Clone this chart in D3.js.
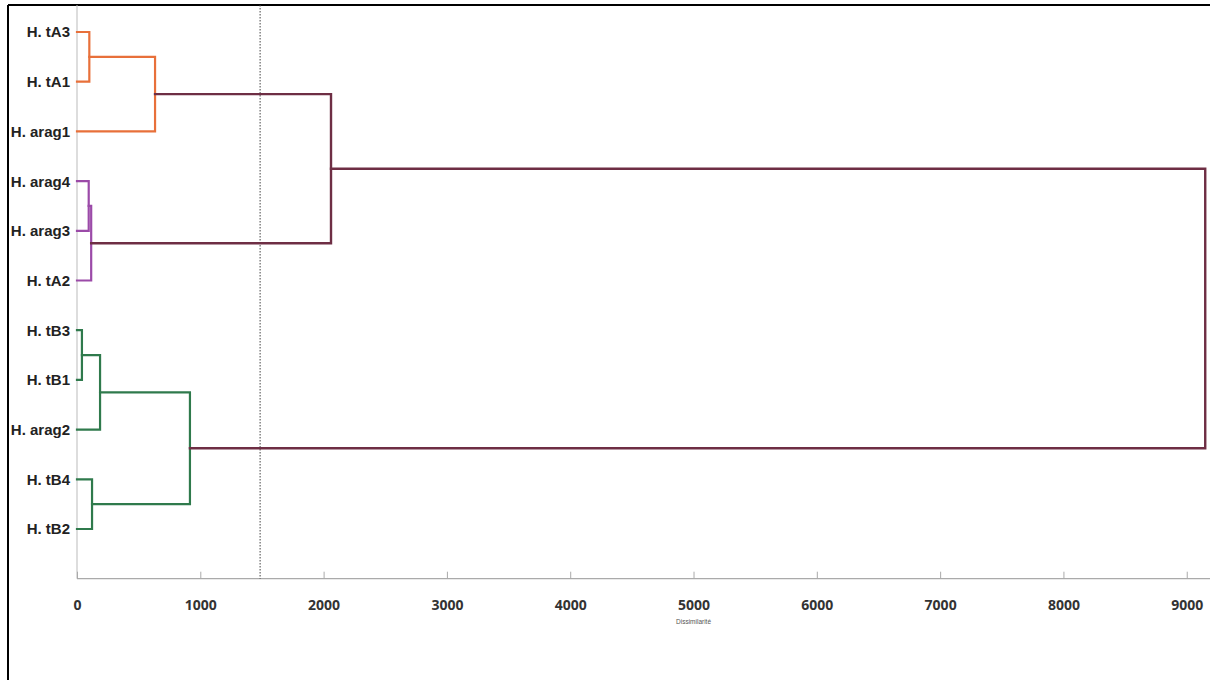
<!DOCTYPE html>
<html>
<head>
<meta charset="utf-8">
<script src="https://cdn.jsdelivr.net/npm/d3@7"></script>
<style>
  html, body { margin: 0; padding: 0; background: #fff; }
  svg { display: block; }
</style>
</head>
<body>
<svg id="chart" width="1210" height="680"></svg>
<script>
// ---- Data ----
const leaves = ["H. tA3", "H. tA1", "H. arag1", "H. arag4", "H. arag3", "H. tA2",
                "H. tB3", "H. tB1", "H. arag2", "H. tB4", "H. tB2"];
// merges: [childA, childB, height]; ids 0..10 are leaves, 11.. are merges in order
const mergeA      = [0, 11, 3, 13, 12, 6, 16, 9, 17, 15];
const mergeB      = [1, 2, 4, 5, 14, 7, 8, 10, 18, 19];
const mergeHeight = [100, 633, 95, 115, 2060, 40, 187, 122, 916, 9150];
const mergeGroup  = ["A", "A", "P", "P", "R", "B", "B", "B", "B", "R"];
const xTicks = [0, 1000, 2000, 3000, 4000, 5000, 6000, 7000, 8000, 9000];
const truncation = 1485;
const xTitle = "Dissimilarité";

// ---- Styles ----
const colors = { A: "#e8703a", P: "#9b4aa8", B: "#2f7a4c", R: "#6e2e44" };

const svg = d3.select("#chart");

// frame
svg.append("line").attr("x1", 8).attr("x2", 8).attr("y1", 5).attr("y2", 680)
  .attr("stroke", "#000").attr("stroke-width", 2);
svg.append("line").attr("x1", 8).attr("x2", 1210).attr("y1", 5).attr("y2", 5)
  .attr("stroke", "#000").attr("stroke-width", 2);

const x = d3.scaleLinear().domain([0, 9200]).range([77, 1211.4]);
const y = d3.scaleLinear().domain([0, 11]).range([32, 578.7]);
const yTop = 5, yAxis = y(11);

// y axis line
svg.append("line").attr("x1", x(0)).attr("x2", x(0)).attr("y1", yTop).attr("y2", yAxis)
  .attr("stroke", "#bbb").attr("stroke-width", 1);

// x axis
const xAxis = d3.axisBottom(x).tickValues(xTicks).tickFormat(d3.format("d")).tickSize(0).tickPadding(0);
const gx = svg.append("g").attr("transform", `translate(0,${yAxis})`).call(xAxis);
gx.select(".domain").attr("stroke", "#aaa").attr("stroke-width", 1.2)
  .attr("d", `M${x(0)},0H1210`);
gx.selectAll(".tick line").attr("y1", -7).attr("y2", 0).attr("stroke", "#aaa");
gx.selectAll(".tick text")
  .attr("dy", "0")
  .attr("y", 31)
  .style("font-family", "'Open Sans', 'Liberation Sans', Arial, sans-serif")
  .style("font-size", "14px").style("font-weight", "bold").attr("fill", "#333");

svg.append("text").attr("x", x(5000)).attr("y", 624).attr("text-anchor", "middle")
  .style("font-family", "Liberation Sans, Arial, sans-serif").style("font-size", "6.5px")
  .attr("fill", "#555").text(xTitle);

// truncation line
svg.append("line").attr("x1", x(truncation)).attr("x2", x(truncation))
  .attr("y1", yTop).attr("y2", yAxis)
  .attr("stroke", "#444").attr("stroke-width", 1).attr("stroke-dasharray", "1.5,1.5");

// leaf labels
svg.append("g").selectAll("text").data(leaves).join("text")
  .attr("x", 70).attr("y", (d, i) => y(i)).attr("dy", "0.36em")
  .attr("text-anchor", "end")
  .style("font-family", "'Liberation Sans Narrow', 'Liberation Sans', Arial, sans-serif")
  .style("font-size", "15px").style("font-weight", "bold").attr("fill", "#222")
  .text(d => d);

// compute node positions
const nodeX = leaves.map(() => 0);
const nodeY = leaves.map((d, i) => i);
mergeHeight.forEach((h, k) => {
  nodeX.push(h);
  nodeY.push((nodeY[mergeA[k]] + nodeY[mergeB[k]]) / 2);
});

// draw merges
const g = svg.append("g").attr("fill", "none").attr("stroke-linejoin", "miter").attr("stroke-linecap", "square");
mergeHeight.forEach((h, k) => {
  const a = mergeA[k], b = mergeB[k];
  const path = d3.path();
  path.moveTo(x(nodeX[a]), y(nodeY[a]));
  path.lineTo(x(h), y(nodeY[a]));
  path.lineTo(x(h), y(nodeY[b]));
  path.lineTo(x(nodeX[b]), y(nodeY[b]));
  g.append("path").attr("d", path.toString())
    .attr("stroke", colors[mergeGroup[k]])
    .attr("stroke-width", mergeGroup[k] === "R" ? 2.4 : 2.2);
});
</script>
</body>
</html>
